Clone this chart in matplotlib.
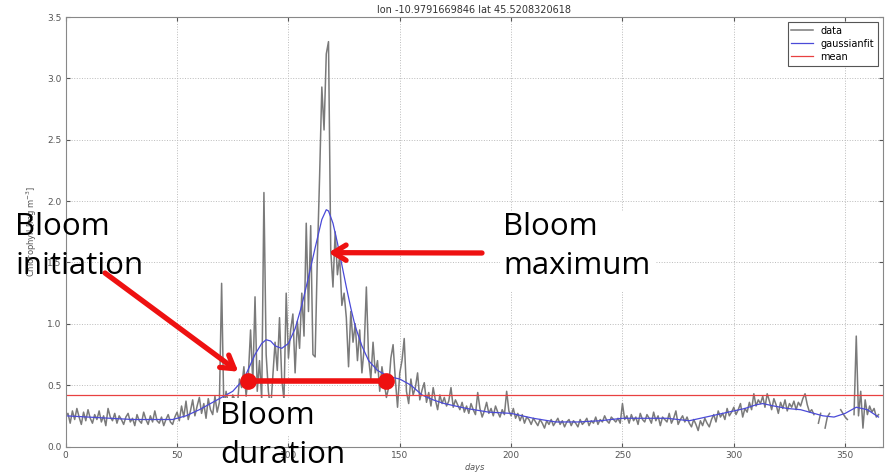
import numpy as np
import matplotlib.pyplot as plt
from matplotlib.patches import Rectangle

# Daily chlorophyll series and its smoothed fit
days = np.arange(0, 366)
chl = [
    0.25, 0.27, 0.19, 0.29, 0.22, 0.31, 0.24, 0.18, 0.28, 0.21,
    0.30, 0.23, 0.19, 0.26, 0.22, 0.29, 0.20, 0.25, 0.17, 0.31,
    0.24, 0.21, 0.27, 0.19, 0.25, 0.22, 0.18, 0.24, 0.27, 0.20,
    0.23, 0.17, 0.26, 0.21, 0.19, 0.28, 0.22, 0.18, 0.25, 0.20,
    0.29, 0.21, 0.19, 0.24, 0.17, 0.22, 0.26, 0.20, 0.18, 0.24,
    0.28, 0.21, 0.33, 0.24, 0.37, 0.22, 0.29, 0.38, 0.25, 0.33,
    0.40, 0.27, 0.35, 0.23, 0.39, 0.30, 0.26, 0.41, 0.28, 0.36,
    1.33, 0.30, 0.45, 0.35, 0.28, 0.42, 0.38, 0.31, 0.55, 0.48,
    0.65, 0.41, 0.58, 0.95, 0.52, 1.22, 0.45, 0.70, 0.38, 2.07,
    0.75, 0.45, 0.30, 0.58, 0.85, 0.62, 1.05, 0.55, 0.38, 1.25,
    0.72, 0.95, 1.08, 0.60, 1.02, 0.80, 1.25, 0.90, 1.82, 1.10,
    1.80, 0.75, 0.73, 1.55, 2.20, 2.93, 2.58, 3.20, 3.30, 1.60,
    1.30, 1.75, 1.40, 1.55, 1.15, 1.25, 1.05, 0.65, 1.10, 0.85,
    1.00, 0.70, 0.95, 0.60, 0.80, 1.30, 0.72, 0.55, 0.85, 0.60,
    0.70, 0.45, 0.65, 0.52, 0.40, 0.48, 0.72, 0.83, 0.55, 0.32,
    0.60, 0.70, 0.88, 0.45, 0.35, 0.55, 0.42, 0.48, 0.60, 0.38,
    0.46, 0.52, 0.36, 0.44, 0.33, 0.48, 0.38, 0.30, 0.42, 0.35,
    0.40, 0.33, 0.37, 0.48, 0.32, 0.38, 0.34, 0.30, 0.36, 0.28,
    0.33, 0.27, 0.35, 0.30, 0.26, 0.44, 0.31, 0.24, 0.29, 0.36,
    0.27, 0.31, 0.25, 0.33, 0.28, 0.24, 0.30, 0.26, 0.45, 0.29,
    0.25, 0.31, 0.23, 0.27, 0.21, 0.26, 0.19, 0.24, 0.22, 0.18,
    0.23, 0.20, 0.17, 0.22, 0.19, 0.15, 0.21, 0.18, 0.22, 0.17,
    0.20, 0.23, 0.18, 0.21, 0.16, 0.20, 0.22, 0.17, 0.21, 0.19,
    0.16, 0.22, 0.18, 0.20, 0.23, 0.17, 0.21, 0.19, 0.24, 0.18,
    0.22, 0.20, 0.25, 0.21, 0.19, 0.24, 0.22, 0.20, 0.23, 0.19,
    0.35, 0.22, 0.25, 0.19, 0.26, 0.21, 0.24, 0.18, 0.27, 0.22,
    0.20, 0.26, 0.23, 0.19, 0.28, 0.21, 0.25, 0.17, 0.24, 0.22,
    0.20, 0.27, 0.19, 0.23, 0.29, 0.18, 0.22, 0.25, 0.20, 0.24,
    0.19, 0.16, 0.22, 0.18, 0.13, 0.21, 0.17, 0.23, 0.19, 0.16,
    0.22, 0.26, 0.20, 0.29, 0.24, 0.27, 0.22, 0.31, 0.25, 0.28,
    0.32, 0.26, 0.30, 0.35, 0.24, 0.31, 0.28, 0.36, 0.30, 0.43,
    0.33, 0.38, 0.35, 0.41, 0.32, 0.43, 0.37, 0.30, 0.39, 0.34,
    0.27, 0.36, 0.31, 0.38, 0.29, 0.35, 0.32, 0.37, 0.30, 0.36,
    0.33, 0.39, 0.43, 0.34, 0.28, 0.30, 0.26, np.nan, 0.19, 0.27,
    np.nan, 0.15, 0.24, 0.27, np.nan, np.nan, 0.26, np.nan, 0.30, 0.27,
    0.24, 0.22, np.nan, np.nan, 0.26, 0.90, 0.25, 0.45, 0.15, 0.38,
    0.26, 0.33, 0.28, 0.31, 0.24, 0.26,
]
fit_days = [0, 10, 20, 30, 40, 48, 54, 60, 65, 70, 75, 80, 85, 88, 90,
            92, 94, 97, 100, 103, 106, 109, 112, 115, 117, 118, 120,
            122, 124, 126, 128, 130, 133, 136, 140, 145, 150, 155, 160,
            165, 170, 180, 190, 200, 210, 220, 230, 240, 250, 260, 270,
            280, 290, 300, 305, 310, 313, 318, 324, 330, 336, 340, 345,
            350, 355, 360, 365]
fit = [0.25, 0.24, 0.23, 0.22, 0.22, 0.22, 0.25, 0.30, 0.35, 0.40,
       0.45, 0.55, 0.75, 0.84, 0.87, 0.86, 0.82, 0.80, 0.84, 0.96,
       1.15, 1.38, 1.62, 1.85, 1.93, 1.92, 1.82, 1.66, 1.48, 1.30,
       1.13, 0.98, 0.82, 0.70, 0.62, 0.57, 0.55, 0.50, 0.42, 0.38,
       0.35, 0.31, 0.28, 0.27, 0.23, 0.20, 0.20, 0.21, 0.23, 0.23,
       0.23, 0.21, 0.25, 0.29, 0.31, 0.34, 0.35, 0.33, 0.31, 0.30,
       0.27, 0.25, 0.24, 0.27, 0.32, 0.30, 0.24]
mean_chl = 0.42

# Bloom markers
bloom_start = 82
bloom_end = 144
bloom_level = 0.53
initiation_tip = (77.5, 0.61)
maximum_tip = (118, 1.58)

fig = plt.figure(figsize=(8.86, 4.75), dpi=100)
ax = fig.add_axes([0.0742, 0.06, 0.9224, 0.904])

ax.plot(days, chl, color='#7a7a7a', lw=1.1, label='data')
ax.plot(fit_days, fit, color='#4a4ad8', lw=0.9, label='gaussianfit')
ax.axhline(mean_chl, color='#e84040', lw=0.9, label='mean')

ax.set_xlim(0, 367)
ax.set_ylim(0, 3.5)
ax.set_xticks([0, 50, 100, 150, 200, 250, 300, 350])
ax.set_yticks(np.arange(0, 3.51, 0.5))
ax.yaxis.set_major_formatter(plt.FormatStrFormatter('%.1f'))
ax.tick_params(labelsize=6.5, colors='#555555', direction='in', length=3,
               top=True, right=True, pad=3)
ax.grid(True, color='#bbbbbb', ls=':', lw=0.7)
for s in ax.spines.values():
    s.set_color('#888888')

ax.set_title('lon -10.9791669846 lat 45.5208320618', fontsize=7, color='#333333', pad=3)
ax.set_xlabel('$days$', fontsize=6, color='#555555', labelpad=1)
ax.set_ylabel('Chlorophyll [mg m$^{-3}$]', fontsize=6, color='#555555', labelpad=6)

leg = ax.legend(loc='upper right', fontsize=7, fancybox=False, framealpha=1,
                edgecolor='#555555', handlelength=2.2, borderaxespad=0.5,
                labelspacing=0.3)
leg.get_frame().set_linewidth(0.8)

# Bloom duration bar
ax.plot([bloom_start, bloom_end], [bloom_level, bloom_level], color='#ee1111',
        lw=4, marker='o', markersize=11, solid_capstyle='butt', zorder=5)

big = dict(fontsize=22.5, family='Open Sans', color='black', linespacing=1.4, va='top',
           zorder=8)
arrow = dict(arrowstyle='->,head_length=0.9,head_width=0.55', color='#ee1111', lw=3.8,
             shrinkA=0, shrinkB=0)
ax.annotate('', xy=initiation_tip, xycoords='data', xytext=(105 / 886, 1 - 273 / 475),
            textcoords='figure fraction', arrowprops=arrow, zorder=6)
ax.annotate('', xy=maximum_tip, xycoords='data', xytext=(482 / 886, 1 - 253 / 475),
            textcoords='figure fraction', arrowprops=arrow, zorder=6)

# white text boxes over the plot area
fig.patches.append(Rectangle((222 / 886, 1 - 436 / 475), 112 / 886, 38 / 475,
                             transform=fig.transFigure, facecolor='white',
                             edgecolor='none', zorder=7))
fig.patches.append(Rectangle((500 / 886, 1 - 292 / 475), 156 / 886, 80 / 475,
                             transform=fig.transFigure, facecolor='white',
                             edgecolor='none', zorder=7))

fig.text(15 / 886, 1 - 212 / 475, 'Bloom\ninitiation', **big)
fig.text(503 / 886, 1 - 212 / 475, 'Bloom\nmaximum', **big)
fig.text(220 / 886, 1 - 401 / 475, 'Bloom\nduration', **big)

fig.savefig('out.png', dpi=100)
